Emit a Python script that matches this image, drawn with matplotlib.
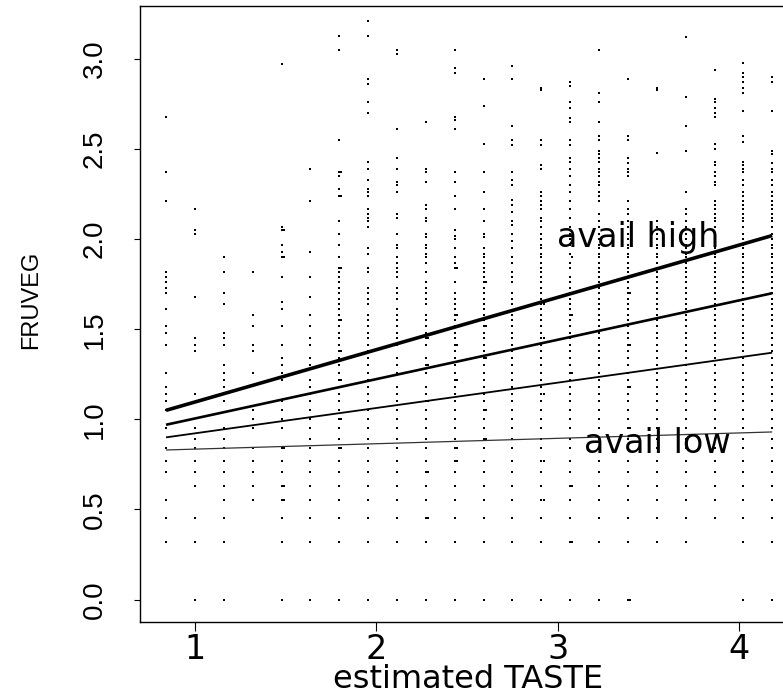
import matplotlib
matplotlib.use('Agg')
import matplotlib.pyplot as plt

# estimated TASTE values of the point columns
cols_x = [0.84, 0.999, 1.158, 1.318, 1.477, 1.636, 1.795, 1.954, 2.114, 2.273, 2.432,
          2.591, 2.750, 2.910, 3.069, 3.228, 3.387, 3.546, 3.706, 3.865, 4.024, 4.183]

# FRUVEG values in each column
cols_y = [
    [2.68, 2.37, 2.21, 1.82, 1.79, 1.76, 1.73, 1.70, 1.61, 1.52, 1.48, 1.41, 1.26, 1.18, 1.14, 1.10,
     1.05, 0.95, 0.84, 0.77, 0.71, 0.55, 0.45, 0.32],
    [2.17, 2.05, 2.03, 1.68, 1.45, 1.41, 1.38, 1.14, 0.95, 0.89, 0.84, 0.77, 0.71, 0.63, 0.45, 0.32, 0.0],
    [1.90, 1.82, 1.70, 1.64, 1.48, 1.45, 1.41, 1.30, 1.26, 1.22, 1.18, 1.10, 0.95, 0.89, 0.84, 0.77,
     0.71, 0.63, 0.55, 0.45, 0.32, 0.0],
    [1.82, 1.58, 1.52, 1.41, 1.38, 1.26, 1.05, 1.0, 0.95, 0.84, 0.77, 0.71, 0.63, 0.55],
    [2.97, 2.07, 2.05, 1.97, 1.93, 1.90, 1.79, 1.65, 1.61, 1.52, 1.41, 1.34, 1.30, 1.26, 1.22, 1.10,
     1.05, 1.0, 0.95, 0.84, 0.77, 0.71, 0.63, 0.55, 0.45, 0.32, 0.0],
    [2.39, 2.21, 1.93, 1.79, 1.68, 1.58, 1.52, 1.45, 1.41, 1.34, 1.30, 1.22, 1.18, 1.14, 1.10, 1.05,
     1.0, 0.95, 0.89, 0.84, 0.77, 0.71, 0.63, 0.55, 0.45, 0.32, 0.0],
    [3.13, 3.05, 2.55, 2.37, 2.35, 2.28, 2.24, 2.10, 2.03, 1.97, 1.90, 1.84, 1.82, 1.79, 1.76, 1.73,
     1.70, 1.67, 1.64, 1.61, 1.58, 1.55, 1.52, 1.48, 1.45, 1.41, 1.38, 1.34, 1.30, 1.26, 1.22, 1.18,
     1.14, 1.10, 1.05, 1.0, 0.95, 0.89, 0.84, 0.77, 0.71, 0.63, 0.55, 0.45, 0.32, 0.0],
    [3.21, 3.13, 2.89, 2.86, 2.76, 2.70, 2.43, 2.39, 2.33, 2.28, 2.26, 2.24, 2.17, 2.14, 2.12, 2.10,
     2.07, 1.95, 1.92, 1.84, 1.82, 1.73, 1.70, 1.67, 1.64, 1.58, 1.55, 1.52, 1.48, 1.45, 1.41, 1.38,
     1.34, 1.30, 1.26, 1.22, 1.18, 1.14, 1.10, 1.05, 1.0, 0.95, 0.89, 0.84, 0.77, 0.71, 0.63, 0.55,
     0.45, 0.32, 0.0],
    [3.05, 3.03, 2.61, 2.45, 2.39, 2.32, 2.30, 2.26, 2.14, 2.12, 2.03, 1.97, 1.95, 1.90, 1.87, 1.84,
     1.82, 1.79, 1.73, 1.70, 1.67, 1.61, 1.58, 1.55, 1.52, 1.48, 1.45, 1.41, 1.34, 1.30, 1.26, 1.18,
     1.14, 1.10, 1.05, 1.0, 0.95, 0.89, 0.84, 0.77, 0.71, 0.63, 0.55, 0.45, 0.32, 0.0],
    [2.65, 2.39, 2.37, 2.32, 2.19, 2.17, 2.12, 2.10, 2.03, 2.01, 1.97, 1.95, 1.92, 1.90, 1.87, 1.82,
     1.76, 1.73, 1.70, 1.67, 1.64, 1.58, 1.55, 1.52, 1.48, 1.45, 1.41, 1.34, 1.30, 1.26, 1.18, 1.14,
     1.10, 1.05, 1.0, 0.95, 0.89, 0.84, 0.77, 0.71, 0.63, 0.55, 0.45, 0.32, 0.0],
    [3.05, 2.95, 2.92, 2.68, 2.66, 2.61, 2.37, 2.32, 2.24, 2.17, 2.05, 2.02, 2.0, 1.95, 1.90, 1.87,
     1.84, 1.76, 1.70, 1.67, 1.64, 1.61, 1.58, 1.55, 1.52, 1.48, 1.45, 1.41, 1.38, 1.34, 1.30, 1.26,
     1.22, 1.18, 1.14, 1.10, 1.05, 1.0, 0.95, 0.89, 0.84, 0.77, 0.71, 0.63, 0.55, 0.45, 0.32, 0.0],
    [2.89, 2.74, 2.53, 2.37, 2.26, 2.17, 2.10, 2.03, 2.01, 1.95, 1.92, 1.90, 1.87, 1.84, 1.82, 1.79,
     1.76, 1.73, 1.70, 1.67, 1.64, 1.61, 1.58, 1.55, 1.52, 1.48, 1.45, 1.41, 1.38, 1.34, 1.30, 1.26,
     1.22, 1.18, 1.14, 1.10, 1.05, 1.0, 0.95, 0.89, 0.84, 0.77, 0.71, 0.63, 0.55, 0.45, 0.32, 0.0],
    [2.96, 2.89, 2.63, 2.55, 2.52, 2.37, 2.33, 2.30, 2.22, 2.19, 2.15, 2.10, 2.08, 2.03, 1.99, 1.95,
     1.90, 1.87, 1.82, 1.79, 1.76, 1.70, 1.67, 1.64, 1.58, 1.55, 1.52, 1.48, 1.45, 1.41, 1.38, 1.34,
     1.30, 1.26, 1.22, 1.18, 1.14, 1.10, 1.05, 1.0, 0.95, 0.89, 0.84, 0.77, 0.71, 0.63, 0.55, 0.45,
     0.32, 0.0],
    [2.84, 2.83, 2.55, 2.52, 2.41, 2.39, 2.26, 2.24, 2.21, 2.19, 2.17, 2.12, 2.10, 2.07, 2.03, 2.0,
     1.97, 1.95, 1.92, 1.90, 1.87, 1.84, 1.82, 1.79, 1.76, 1.73, 1.70, 1.67, 1.64, 1.61, 1.58, 1.55,
     1.52, 1.48, 1.45, 1.41, 1.38, 1.34, 1.30, 1.26, 1.22, 1.18, 1.14, 1.10, 1.05, 1.0, 0.95, 0.89,
     0.84, 0.77, 0.71, 0.63, 0.55, 0.45, 0.32, 0.0],
    [2.87, 2.85, 2.76, 2.73, 2.67, 2.65, 2.55, 2.52, 2.45, 2.43, 2.39, 2.35, 2.30, 2.26, 2.21, 2.17,
     2.12, 2.07, 2.03, 2.0, 1.97, 1.92, 1.87, 1.84, 1.79, 1.76, 1.73, 1.70, 1.67, 1.64, 1.61, 1.58,
     1.55, 1.52, 1.48, 1.45, 1.41, 1.38, 1.34, 1.30, 1.26, 1.22, 1.18, 1.14, 1.10, 1.05, 1.0, 0.95,
     0.89, 0.84, 0.77, 0.71, 0.63, 0.55, 0.45, 0.32, 0.0],
    [3.05, 2.81, 2.76, 2.65, 2.57, 2.55, 2.49, 2.47, 2.45, 2.43, 2.39, 2.37, 2.35, 2.32, 2.30, 2.26,
     2.24, 2.21, 2.14, 2.10, 2.07, 2.03, 2.0, 1.97, 1.95, 1.92, 1.90, 1.87, 1.84, 1.82, 1.79, 1.76,
     1.73, 1.70, 1.67, 1.64, 1.61, 1.58, 1.55, 1.52, 1.48, 1.45, 1.41, 1.38, 1.34, 1.30, 1.26, 1.22,
     1.18, 1.14, 1.10, 1.05, 1.0, 0.95, 0.89, 0.84, 0.77, 0.71, 0.63, 0.55, 0.45, 0.32, 0.0],
    [2.89, 2.57, 2.55, 2.45, 2.42, 2.39, 2.37, 2.35, 2.21, 2.17, 2.14, 2.10, 2.07, 2.03, 2.0, 1.97,
     1.95, 1.92, 1.90, 1.87, 1.84, 1.82, 1.79, 1.76, 1.73, 1.70, 1.67, 1.64, 1.61, 1.58, 1.55, 1.52,
     1.48, 1.45, 1.41, 1.38, 1.34, 1.30, 1.26, 1.22, 1.18, 1.14, 1.10, 1.05, 1.0, 0.95, 0.89, 0.84,
     0.77, 0.71, 0.63, 0.55, 0.45, 0.32, 0.0],
    [2.84, 2.83, 2.48, 2.10, 2.07, 2.03, 2.0, 1.97, 1.95, 1.92, 1.90, 1.87, 1.84, 1.82, 1.79, 1.76,
     1.73, 1.70, 1.67, 1.64, 1.61, 1.58, 1.55, 1.52, 1.48, 1.45, 1.41, 1.38, 1.34, 1.30, 1.26, 1.22,
     1.18, 1.14, 1.10, 1.05, 1.0, 0.95, 0.89, 0.84, 0.77, 0.71, 0.63, 0.55, 0.45, 0.32],
    [3.12, 2.79, 2.63, 2.49, 2.26, 2.17, 2.14, 2.10, 2.07, 2.03, 2.0, 1.97, 1.95, 1.92, 1.90, 1.87,
     1.84, 1.82, 1.79, 1.76, 1.73, 1.70, 1.67, 1.64, 1.61, 1.58, 1.55, 1.52, 1.48, 1.45, 1.41, 1.38,
     1.34, 1.30, 1.26, 1.22, 1.18, 1.14, 1.10, 1.05, 1.0, 0.95, 0.89, 0.84, 0.77, 0.71, 0.63, 0.55,
     0.45, 0.32],
    [2.94, 2.78, 2.76, 2.73, 2.70, 2.68, 2.53, 2.50, 2.43, 2.41, 2.37, 2.35, 2.32, 2.30, 2.21, 2.19,
     2.17, 2.14, 2.12, 2.10, 2.07, 2.03, 2.0, 1.97, 1.95, 1.92, 1.90, 1.87, 1.84, 1.82, 1.79, 1.76,
     1.73, 1.70, 1.67, 1.64, 1.61, 1.58, 1.55, 1.52, 1.48, 1.45, 1.41, 1.38, 1.34, 1.30, 1.26, 1.22,
     1.18, 1.14, 1.10, 1.05, 1.0, 0.95, 0.89, 0.84, 0.77, 0.71, 0.63, 0.55, 0.45],
    [2.98, 2.92, 2.90, 2.87, 2.84, 2.81, 2.71, 2.57, 2.54, 2.43, 2.41, 2.39, 2.37, 2.33, 2.30, 2.26,
     2.24, 2.21, 2.19, 2.17, 2.14, 2.12, 2.10, 2.07, 2.03, 2.0, 1.97, 1.95, 1.92, 1.90, 1.87, 1.84,
     1.82, 1.79, 1.76, 1.73, 1.70, 1.67, 1.64, 1.61, 1.58, 1.55, 1.52, 1.48, 1.45, 1.41, 1.38, 1.34,
     1.30, 1.26, 1.22, 1.18, 1.14, 1.10, 1.05, 1.0, 0.95, 0.89, 0.84, 0.77, 0.71, 0.63, 0.55, 0.45,
     0.32, 0.0],
    [2.90, 2.87, 2.71, 2.49, 2.47, 2.42, 2.39, 2.37, 2.33, 2.30, 2.26, 2.24, 2.21, 2.19, 2.17, 2.14,
     2.12, 2.10, 2.07, 2.03, 2.0, 1.97, 1.95, 1.92, 1.90, 1.87, 1.84, 1.82, 1.79, 1.76, 1.73, 1.70,
     1.67, 1.64, 1.61, 1.58, 1.55, 1.52, 1.48, 1.45, 1.41, 1.38, 1.34, 1.30, 1.26, 1.22, 1.18, 1.14,
     1.10, 1.05, 1.0, 0.95, 0.89, 0.84, 0.77, 0.71, 0.63, 0.55, 0.45, 0.32, 0.0],
]

# a few TASTE values sitting just beside a column
twin_x = [1.489, 1.807, 2.285, 2.444, 2.603, 2.922, 3.081, 3.399]
twin_y = [
    [2.05, 1.90, 0.84, 0.63, 0.55],
    [2.37, 2.24, 1.84, 1.55, 1.38, 1.22, 1.0, 0.84],
    [1.45, 1.30, 1.10, 0.71, 0.45],
    [1.84, 1.58, 1.41, 1.22, 0.84, 0.77],
    [1.76, 1.52, 1.34, 1.05, 0.89],
    [1.64, 1.45, 1.14, 0.77, 0.55],
    [1.90, 1.58, 1.26, 0.63, 0.32],
    [1.70, 1.41, 1.18, 0.95, 0.0],
]

# fitted lines for four availability levels (high -> low), at first and last column
line_x = [0.84, 4.183]
line_high = [1.05, 2.02]
line_mid_high = [0.97, 1.70]
line_mid_low = [0.90, 1.37]
line_low = [0.83, 0.93]

x_ticks = [1, 2, 3, 4]
y_ticks = [0.0, 0.5, 1.0, 1.5, 2.0, 2.5, 3.0]

fig = plt.figure(figsize=(7.83, 6.96), dpi=100)
ax = fig.add_axes([140.3 / 783, (696 - 621.7) / 696, 653.1 / 783, 615.7 / 696])

for x, ys in zip(cols_x, cols_y):
    ax.plot([x] * len(ys), ys, 's', ms=2.0, mew=0, color='black')
for x, ys in zip(twin_x, twin_y):
    ax.plot([x] * len(ys), ys, 's', ms=2.0, mew=0, color='black')

ax.plot(line_x, line_high, color='black', lw=2.6, solid_capstyle='butt')
ax.plot(line_x, line_mid_high, color='black', lw=1.9, solid_capstyle='butt')
ax.plot(line_x, line_mid_low, color='black', lw=1.3, solid_capstyle='butt')
ax.plot(line_x, line_low, color='#333333', lw=0.9, solid_capstyle='butt')

hfont = {'family': 'DejaVu Sans', 'size': 24}
vfam = ['Liberation Sans', 'DejaVu Sans']

ax.text(3.443, 1.958, 'avail high', ha='center', va='baseline', **hfont)
ax.text(3.551, 0.811, 'avail low', ha='center', va='baseline', **hfont)

ax.set_xlim(0.698, 4.30)
ax.set_ylim(-0.123, 3.294)

ax.set_xticks(x_ticks)
ax.set_xticklabels([str(t) for t in x_ticks], **hfont)
ax.set_yticks(y_ticks)
ax.set_yticklabels(['%.1f' % t for t in y_ticks], rotation=90, va='center', ha='right',
                   family=vfam, size=20)

ax.tick_params(axis='x', length=6.3, width=0.8, pad=2, direction='out')
ax.tick_params(axis='y', length=4.5, width=0.8, pad=19, direction='out')

ax.set_xlabel('estimated TASTE', family='DejaVu Sans', size=23)
ax.xaxis.label.set_va('baseline')
ax.xaxis.set_label_coords(0.5018, -0.1077)
ax.set_ylabel('FRUVEG', family=vfam, size=17)
ax.yaxis.label.set_va('center')
ax.yaxis.set_label_coords(-0.1674, 0.5225)

for s in ax.spines.values():
    s.set_linewidth(1.0)
    s.set_color('black')

fig.savefig('out.png', dpi=100)
